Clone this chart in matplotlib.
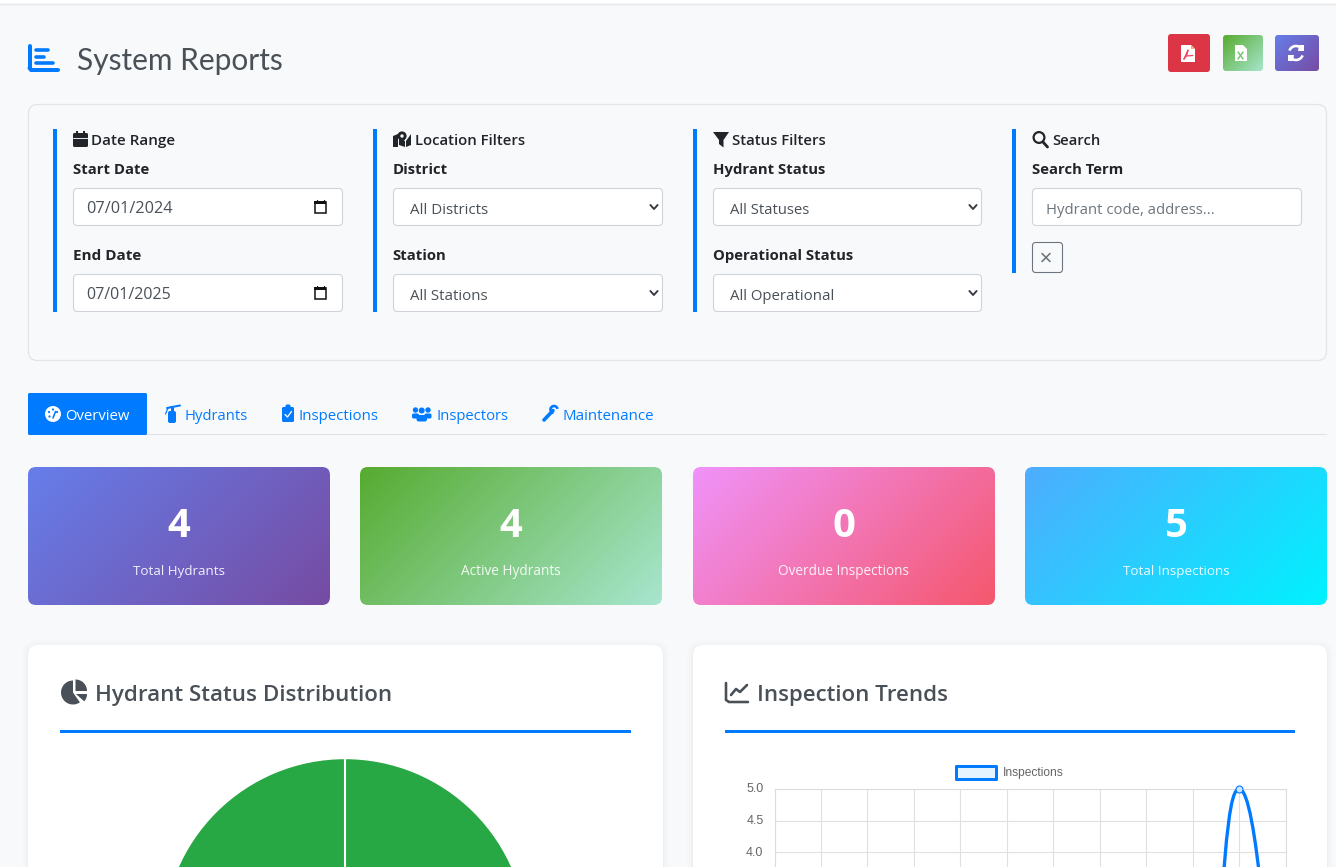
import numpy as np
import matplotlib
matplotlib.use("Agg")
import matplotlib.pyplot as plt
from matplotlib.patches import FancyBboxPatch, Rectangle, Circle, Polygon, PathPatch, Wedge, Arc
from matplotlib.path import Path
from matplotlib.colors import to_rgb
from matplotlib.transforms import ScaledTranslation

# ---------- data ----------
page_title = "System Reports"
filter_headings = ["Date Range", "Location Filters", "Status Filters", "Search"]
filter_labels = ["Start Date", "End Date", "District", "Station", "Hydrant Status", "Operational Status", "Search Term"]
filter_values = ["07/01/2024", "07/01/2025", "All Districts", "All Stations", "All Statuses", "All Operational"]
search_placeholder = "Hydrant code, address..."
tab_labels = ["Overview", "Hydrants", "Inspections", "Inspectors", "Maintenance"]
kpi_values = [4, 4, 0, 5]
kpi_labels = ["Total Hydrants", "Active Hydrants", "Overdue Inspections", "Total Inspections"]
panel_titles = ["Hydrant Status Distribution", "Inspection Trends"]
status_names = ["Active"]
status_counts = [4]
trend_series_name = "Inspections"
trend_counts = [0, 0, 0, 0, 0, 0, 0, 0, 0, 0, 5, 0]
trend_yticks = [5.0, 4.5, 4.0]

# ---------- canvas ----------
W, H = 1336, 867
BG = "#f8f9fa"; BLUE = "#007bff"; DARK = "#212529"; SLATE = "#495057"; GREY = "#6c757d"
FONT = "Open Sans"
fig = plt.figure(figsize=(W / 100, H / 100), dpi=100, facecolor=BG)
ax = fig.add_axes([0, 0, 1, 1], zorder=0)
ax.set_xlim(0, W); ax.set_ylim(H, 0); ax.axis("off")
renderer = fig.canvas.get_renderer()


def px_axes(x0, y0, x1, y1, z=2):
    return fig.add_axes([x0 / W, 1 - y1 / H, (x1 - x0) / W, (y1 - y0) / H], zorder=z)


def rrect(x0, y0, x1, y1, r=4, fc="white", ec="none", lw=1.0, z=1, alpha=None):
    p = FancyBboxPatch((x0, y0), x1 - x0, y1 - y0, boxstyle=f"round,pad=0,rounding_size={r}",
                       fc=fc, ec=ec, lw=lw * 0.72, zorder=z, alpha=alpha)
    ax.add_patch(p)
    return p


def gradient(x0, y0, x1, y1, c0, c1, r=8, z=1):
    w, h = x1 - x0, y1 - y0
    xs, ys = np.meshgrid(np.arange(int(w)) + .5 - w / 2, np.arange(int(h)) + .5 - h / 2)
    t = ((xs + ys) / (w + h) + .5)[..., None]
    img = np.array(to_rgb(c0)) * (1 - t) + np.array(to_rgb(c1)) * t
    p = rrect(x0, y0, x1, y1, r=r, fc="none", z=z)
    im = ax.imshow(img, extent=(x0, x1, y1, y0), origin="upper", aspect="auto", zorder=z, interpolation="bilinear")
    im.set_clip_path(p)
    ax.set_xlim(0, W); ax.set_ylim(H, 0)


def T(x, y, s, px, width=None, color=DARK, weight="normal", ha="left", family=FONT, alpha=None, z=5):
    t = ax.text(x, y, s, fontsize=px * 0.72, color=color, weight=weight, ha=ha, va="baseline",
                family=family, alpha=alpha, zorder=z)
    if width:
        cur = t.get_window_extent(renderer).width
        t.set_fontsize(px * 0.72 * width / cur)
    return t


def line(xs, ys, c, lw=1, z=6, cap="round"):
    ax.plot(xs, ys, color=c, lw=lw * 0.72, zorder=z, solid_capstyle=cap, solid_joinstyle="round")


def poly(pts, c, z=6):
    ax.add_patch(Polygon(pts, closed=True, fc=c, ec="none", zorder=z))


def circ(x, y, r, c, z=6):
    ax.add_patch(Circle((x, y), r, fc=c, ec="none", zorder=z))


def ring(x, y, r, c, lw, z=6):
    ax.add_patch(Circle((x, y), r, fc="none", ec=c, lw=lw * .72, zorder=z))


# ---------- top edge ----------
for y0, c in [(0, "#ffffff"), (3, "#f6f6f7"), (4, "#e9eaeb"), (5, "#f2f3f4"), (6, "#f6f7f8")]:
    ax.add_patch(Rectangle((0, y0), W, 1 if y0 else 3, fc=c, ec="none", zorder=1))

# ---------- header ----------
line([29.5, 29.5], [46, 68], BLUE, 4); line([29.5, 31, 58], [68, 70, 70], BLUE, 4)
line([36, 48], [50, 50], BLUE, 3.6); line([36, 44], [56.5, 56.5], BLUE, 3.6); line([36, 53], [63, 63], BLUE, 3.6)
T(77, 70, page_title, 32, width=206, color=SLATE, family="Lato")

rrect(1168, 34, 1210, 72, r=3, fc="#dc3545")
gradient(1223, 35, 1263, 71, "#56ab2f", "#a8e6cf", r=3)
gradient(1275, 35, 1319, 71, "#667eea", "#764ba2", r=3)
poly([(1181, 45), (1191, 45), (1195, 49), (1195, 62), (1181, 62)], "white")
line([1184, 1188, 1187, 1184], [59, 50, 55, 59], "#ee4a6a", 1.3, z=7); line([1186, 1193], [56, 55.5], "#ee4a6a", 1.3, z=7)
poly([(1191, 45), (1195, 49), (1191, 49)], "#f2b26a", z=7)
poly([(1235, 45), (1243, 45), (1247, 49), (1247, 61), (1235, 61)], "white")
line([1238, 1243], [52, 59], "#6cc46a", 1.4, z=7); line([1243, 1238], [52, 59], "#6cc46a", 1.4, z=7)
for th1, th2 in [(200, 330), (20, 150)]:
    ax.add_patch(Arc((1296, 53), 14, 14, theta1=th1, theta2=th2, ec="white", lw=2.6 * .72, zorder=6))
poly([(1299, 45), (1304, 45), (1304, 51), (1298, 51)], "white")
poly([(1288, 55), (1294, 55), (1293, 61), (1288, 61)], "white")

# ---------- filter panel ----------
rrect(28.5, 104.5, 1326.5, 360.5, r=9, fc=BG, ec="#e1e4e8", lw=1.2)
for x0, y1 in [(53, 312), (373, 312), (693, 312), (1012, 273)]:
    ax.add_patch(Rectangle((x0, 129), 4, y1 - 129, fc=BLUE, ec="none", zorder=2))

for s, x, w in zip(filter_headings, [91, 415, 732, 1052], [84, 110, 93, 48]):
    T(x, 145, s, 16, width=w, weight=600)
for s, x, y, w in zip(filter_labels, [73, 73, 393, 392.5, 713, 713, 1032],
                      [174, 260, 174, 260, 174, 260, 174], [76, 68, 55, 54, 112, 140, 92]):
    T(x, y, s, 16, width=w, weight="bold")

for x0, x1, y0 in [(73, 343, 188), (73, 343, 274), (393, 663, 188), (393, 663, 274),
                   (713, 982, 188), (713, 982, 274), (1032, 1302, 188)]:
    rrect(x0 + .5, y0 + .5, x1 - .5, y0 + 37.5, r=4, fc="white", ec="#ced4da", lw=1.1, z=2)
for s, x, y, w in zip(filter_values, [86.5, 86.5, 410, 410, 730, 730], [213, 299, 214, 300, 214, 300],
                      [86, 85, 79, 78, 80, 105]):
    T(x, y, s, 16, width=w, color=SLATE)
T(1046, 214, search_placeholder, 16, width=168, color=GREY)

for y0 in (200, 286):
    ax.add_patch(Rectangle((314.7, y0 + 2), 11, 11, fc="white", ec="#111111", lw=1.1, zorder=6))
    ax.add_patch(Rectangle((314.2, y0 + 1), 12, 3.2, fc="#111111", ec="none", zorder=7))
    line([317, 317], [y0, y0 + 2], "#111111", 1.2); line([324, 324], [y0, y0 + 2], "#111111", 1.2)
for x in (654, 973):
    for y in (207, 293):
        line([x - 3.6, x, x + 3.6], [y - 2, y + 2, y - 2], "#343a40", 1.9)

# heading icons
rrect(73, 133, 88, 147, r=1.5, fc=DARK, z=6)
line([77, 77], [131, 134], DARK, 2, cap="butt"); line([84, 84], [131, 134], DARK, 2, cap="butt")
line([73, 88], [137.5, 137.5], BG, .9, z=7)
poly([(393, 136), (398, 134), (398, 147), (393, 147)], DARK)
poly([(399, 139), (405, 141), (405, 147), (399, 145)], DARK)
poly([(406, 141), (411, 134), (411, 145), (406, 147)], DARK)
circ(402, 136, 4.6, DARK, z=7); circ(402, 136, 1.7, BG, z=8); poly([(399, 139), (405, 139), (402, 144)], DARK, z=7)
poly([(713, 132), (729, 132), (723.5, 140), (723.5, 147.5), (719, 144), (719, 140)], DARK)
ring(1039, 137.5, 5.4, DARK, 2.2); line([1043, 1047.5], [142, 147], DARK, 2.8)

# clear button
rrect(1032.5, 242.5, 1062.5, 272.5, r=3, fc=BG, ec=GREY, lw=1.1, z=2)
line([1042, 1050], [253.5, 261.5], GREY, 1.6); line([1050, 1042], [253.5, 261.5], GREY, 1.6)

# ---------- tabs ----------
ax.add_patch(Rectangle((28, 434), 1299, 1.2, fc="#dee2e6", ec="none", zorder=2))
rrect(28, 393, 147, 435, r=1.5, fc=BLUE, z=3)
for i, (s, x, w) in enumerate(zip(tab_labels, [65, 185, 298, 436, 562], [65, 63, 80, 72, 91])):
    T(x, 420, s, 16, width=w, color="white" if i == 0 else BLUE)
# overview gauge
circ(53, 414, 8, "white")
for px_, py_ in [(49, 412), (53, 409.5), (57, 412), (49.5, 416.5)]:
    circ(px_, py_, 1.1, BLUE, z=7)
line([53, 55.5], [418, 411.5], BLUE, 1.6, z=7)
# extinguisher
rrect(168, 411, 176, 423, r=2, fc=BLUE, z=6); line([172, 172], [407, 411], BLUE, 3, cap="butt")
line([167, 180], [408, 405.5], BLUE, 2); line([165.5, 168, 171], [414, 408, 407], BLUE, 1.2)
# clipboard
rrect(282, 407, 294, 422, r=1.5, fc=BLUE, z=6); rrect(285.5, 404.5, 290.5, 409, r=1.5, fc=BLUE, z=6)
line([285, 287.5, 291.5], [414.5, 417, 411.5], "white", 1.3, z=7)
# users
for cx in (415.5, 428):
    circ(cx, 410, 2.7, BLUE); rrect(cx - 3.5, 413.5, cx + 3.5, 418.5, r=1.6, fc=BLUE, z=6)
circ(421.7, 410.5, 3.4, BG, z=7); circ(421.7, 410.5, 3.0, BLUE, z=8)
rrect(416.5, 415, 427, 421.5, r=2.2, fc=BLUE, z=8)
# wrench
line([544, 553], [420, 410.5], BLUE, 3.6)
ax.add_patch(Wedge((554, 409.5), 4.8, 100, 350, width=2.6, fc=BLUE, ec="none", zorder=6))

# ---------- KPI cards ----------
card_x = [(28, 330), (360, 662), (693, 995), (1025, 1327)]
card_colors = [("#667eea", "#764ba2"), ("#56ab2f", "#a8e6cf"), ("#f093fb", "#f5576c"), ("#4facfe", "#00f2fe")]
card_w = [92, 100, 131, 107]
for (x0, x1), (c0, c1), v, s, w in zip(card_x, card_colors, kpi_values, kpi_labels, card_w):
    gradient(x0, 467, x1, 605, c0, c1, r=8)
    T((x0 + x1) / 2, 537, str(v), 40, color="white", weight="bold", ha="center")
    T((x0 + x1) / 2, 575, s, 14, width=w, color="white", ha="center", alpha=.9)

# ---------- chart panels ----------
for x0, x1 in [(28, 663), (693, 1327)]:
    for d, a in [(6, .006), (4, .008), (2, .012), (1, .015)]:
        rrect(x0 - d, 645 - d + 1, x1 + d, 900, r=10 + d, fc="black", alpha=a, z=1)
    rrect(x0, 645, x1, 900, r=10, fc="white", z=2)
ax.add_patch(Rectangle((60, 730), 571, 3, fc=BLUE, ec="none", zorder=3))
ax.add_patch(Rectangle((725, 730), 570, 3, fc=BLUE, ec="none", zorder=3))
T(95, 701, panel_titles[0], 24, width=297, color=SLATE, weight=600)
T(757, 701, panel_titles[1], 24, width=191, color=SLATE, weight=600)
# panel icons (the page's y axis points down, so wedge angles run clockwise on screen)
ax.add_patch(Wedge((73, 692.5), 12, 55, 270, fc=SLATE, ec="none", zorder=6))
ax.add_patch(Wedge((75.5, 691), 11.5, 270, 360, fc=SLATE, ec="none", zorder=6))
ax.add_patch(Wedge((76, 694), 11, 0, 42, fc=SLATE, ec="none", zorder=6))
line([726, 726, 729, 748], [683, 700, 702, 702], SLATE, 2.6)
line([731, 736, 740, 747], [695, 689, 692, 685], SLATE, 2.6)

# pie chart (only its top is on the page)
pie_start = 90
pie_ax = px_axes(162.5, 758.5, 527.5, 1123.5)
pie_ax.pie(status_counts, labels=None, colors=["#28a745"], startangle=pie_start, radius=1,
           wedgeprops=dict(edgecolor="white", linewidth=1.0))
pie_ax.plot([0, np.cos(np.radians(pie_start))], [0, np.sin(np.radians(pie_start))], color="white", lw=1.5, zorder=5)
pie_ax.set_xlim(-1, 1); pie_ax.set_ylim(-1, 1); pie_ax.set_aspect("equal"); pie_ax.axis("off")

# line chart (only its top is on the page)
lc = px_axes(774.5, 789, 1285.5, 1104)
lc.patch.set_alpha(0)
months = np.arange(len(trend_counts))
lc.set_xlim(0, len(trend_counts) - 1); lc.set_ylim(0, 5)
lc.set_xticks(months); lc.set_xticklabels([])
lc.set_yticks(trend_yticks)
lc.set_yticklabels([f"{v:.1f}" for v in trend_yticks], family="Liberation Sans", fontsize=12.5 * .72, color="#666666")
lc.tick_params(length=0, pad=11 * .72)
shift = ScaledTranslation(0, 1 / 100, fig.dpi_scale_trans)
for lab in lc.get_yticklabels():
    lab.set_transform(lab.get_transform() + shift)
lc.grid(True, color="#e0e0e0", lw=.8); lc.set_axisbelow(True)
for sp in lc.spines.values():
    sp.set_color("#dcdcdc"); sp.set_linewidth(.8)


def spline_path(axis, xs, ys, tension=.4):
    pts = axis.transData.transform(np.column_stack([xs, ys]))
    n = len(pts); before = []; after = []
    for i in range(n):
        p0, p1, p2 = pts[max(i - 1, 0)], pts[i], pts[min(i + 1, n - 1)]
        d01, d12 = np.hypot(*(p1 - p0)), np.hypot(*(p2 - p1))
        s = d01 + d12
        fa = tension * d01 / s; fb = tension * d12 / s
        before.append(p1 - fa * (p2 - p0)); after.append(p1 + fb * (p2 - p0))
    verts = [pts[0]]; codes = [Path.MOVETO]
    for i in range(n - 1):
        verts += [after[i], before[i + 1], pts[i + 1]]; codes += [Path.CURVE4] * 3
    return Path(axis.transData.inverted().transform(np.array(verts)), codes)


lc.add_patch(PathPatch(spline_path(lc, months, trend_counts), fc="none", ec=BLUE, lw=3.3 * .72, clip_on=False, zorder=4))
lc.plot(months, trend_counts, ls="none", marker="o", ms=5, mfc="#cfe5ff", mec=BLUE, mew=.8, clip_on=False, zorder=5)

# chart legend
rrect(956.5, 766.5, 996.5, 779.5, r=0.1, fc="#e5f2ff", ec=BLUE, lw=3, z=4)
T(1003, 776, trend_series_name, 12, color="#666666", family="Liberation Sans")

fig.savefig("out.png", dpi=100, facecolor=BG)
